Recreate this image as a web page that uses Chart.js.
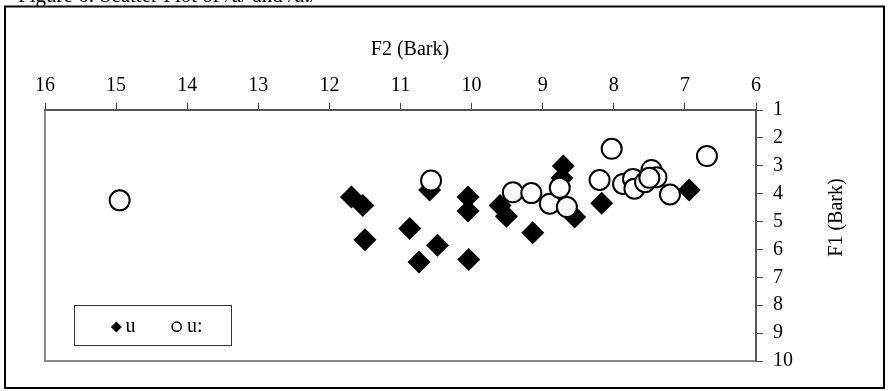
<!DOCTYPE html>
<html>
<head>
<meta charset="utf-8">
<script src="https://cdn.jsdelivr.net/npm/chart.js@4.4.0/dist/chart.umd.min.js"></script>
<style>
  html, body { margin: 0; padding: 0; background: #fff; }
  #wrap { width: 889px; height: 391px; position: relative; }
</style>
</head>
<body>
<div id="wrap"><canvas id="c" width="889" height="391"></canvas></div>
<script>
// Vowel formant measurements (Bark)
const figureTitle = 'Figure 6: Scatter Plot of /u/ and /u:/';
const xTitle = 'F2 (Bark)';
const yTitle = 'F1 (Bark)';
const seriesNames = ['u', 'u:'];

// /u/ tokens
const shortF2 = [11.69, 11.53, 11.50, 10.87, 10.48, 10.74, 10.04, 10.59, 10.05, 10.05, 9.60, 9.51, 9.14, 8.71, 8.73, 8.55, 8.17, 6.94];
const shortF1 = [4.12, 4.42, 5.65, 5.25, 5.85, 6.45, 6.36, 3.87, 4.12, 4.62, 4.42, 4.81, 5.40, 3.01, 3.44, 4.84, 4.34, 3.87];

// /u:/ tokens
const longF2 = [14.95, 10.57, 9.42, 9.16, 8.90, 8.76, 8.66, 8.20, 8.03, 7.87, 7.73, 7.71, 7.47, 7.40, 7.56, 7.50, 7.21, 6.69];
const longF1 = [4.24, 3.53, 3.95, 3.98, 4.36, 3.79, 4.48, 3.51, 2.39, 3.65, 3.47, 3.82, 3.15, 3.41, 3.59, 3.43, 4.03, 2.65];

// Axis ranges (both axes run high-to-low)
const xRange = [6, 16];
const yRange = [1, 10];

const FONT = '"Liberation Serif", "Times New Roman", serif';

function toPoints(xs, ys) {
  return xs.map((x, i) => ({ x: x, y: ys[i] }));
}

const framePlugin = {
  id: 'frame',
  beforeDraw(chart) {
    const { ctx, chartArea: a } = chart;
    ctx.save();
    ctx.fillStyle = '#fff';
    ctx.fillRect(0, 0, chart.width, chart.height);
    // figure caption, mostly above the canvas edge
    ctx.fillStyle = '#000';
    ctx.font = '21px ' + FONT;
    ctx.textBaseline = 'alphabetic';
    ctx.textAlign = 'left';
    ctx.fillText(figureTitle, 18, 2);
    // outer box
    ctx.strokeStyle = '#000';
    ctx.lineWidth = 2;
    ctx.strokeRect(5, 6.5, 879, 381.5);
    // plot area frame
    ctx.strokeStyle = '#8a8a8a';
    ctx.lineWidth = 2;
    ctx.strokeRect(a.left, a.top, a.right - a.left, a.bottom - a.top);
    ctx.restore();
  },
  afterDraw(chart) {
    const { ctx } = chart;
    ctx.save();
    ctx.fillStyle = '#000';
    ctx.font = '20px ' + FONT;
    // top axis title
    ctx.textAlign = 'center';
    ctx.textBaseline = 'alphabetic';
    ctx.fillText(xTitle, 410, 54.5);
    // right axis title, reading upward
    ctx.save();
    ctx.translate(842, 217.5);
    ctx.rotate(-Math.PI / 2);
    ctx.fillText(yTitle, 0, 0);
    ctx.restore();

    // legend box
    ctx.fillStyle = '#fff';
    ctx.fillRect(74.5, 305.5, 157, 40);
    ctx.strokeStyle = '#333';
    ctx.lineWidth = 1;
    ctx.strokeRect(74.5, 305.5, 157, 40);

    const ds = chart.data.datasets;
    ctx.fillStyle = '#000';
    ctx.strokeStyle = '#000';
    Chart.helpers.drawPoint(ctx, { pointStyle: 'rectRot', radius: 5.5, rotation: 0, borderWidth: 0 }, 116.3, 327);
    ctx.fillStyle = '#fff';
    ctx.lineWidth = 1.5;
    Chart.helpers.drawPoint(ctx, { pointStyle: 'circle', radius: 4.6, rotation: 0, borderWidth: 1.5 }, 176.7, 326.7);

    ctx.fillStyle = '#000';
    ctx.textAlign = 'left';
    ctx.textBaseline = 'alphabetic';
    ctx.fillText(ds[0].label, 125.5, 331.5);
    ctx.fillText(ds[1].label, 187, 331.5);
    ctx.restore();
  }
};

const axisCommon = {
  type: 'linear',
  reverse: true,
  grid: { drawOnChartArea: false, drawTicks: true, tickLength: 7, tickColor: '#444', tickWidth: 1 },
  border: { display: true, color: '#555', width: 2 }
};

new Chart(document.getElementById('c'), {
  type: 'scatter',
  data: {
    datasets: [
      {
        label: seriesNames[0],
        data: toPoints(shortF2, shortF1),
        order: 1,
        pointStyle: 'rectRot',
        pointRadius: 11.5,
        pointBackgroundColor: '#000',
        pointBorderColor: '#000',
        pointBorderWidth: 0
      },
      {
        label: seriesNames[1],
        data: toPoints(longF2, longF1),
        order: 0,
        pointStyle: 'circle',
        pointRadius: 10,
        pointBackgroundColor: '#fff',
        pointBorderColor: '#000',
        pointBorderWidth: 2
      }
    ]
  },
  plugins: [framePlugin],
  options: {
    responsive: false,
    animation: false,
    devicePixelRatio: 1,
    events: [],
    layout: { padding: { left: 45, top: 0, right: 73, bottom: 30 } },
    plugins: { legend: { display: false }, tooltip: { enabled: false } },
    scales: {
      x: Object.assign({}, axisCommon, {
        position: 'top',
        min: xRange[0],
        max: xRange[1],
        ticks: { stepSize: 1, color: '#000', font: { family: FONT, size: 20 }, padding: 5, maxRotation: 0, autoSkip: false },
        afterFit(scale) { scale.height = 110; }
      }),
      y: Object.assign({}, axisCommon, {
        position: 'right',
        min: yRange[0],
        max: yRange[1],
        ticks: { stepSize: 1, color: '#000', font: { family: FONT, size: 20 }, padding: 10, autoSkip: false },
        afterFit(scale) { scale.width = 60; }
      })
    }
  }
});
</script>
</body>
</html>
